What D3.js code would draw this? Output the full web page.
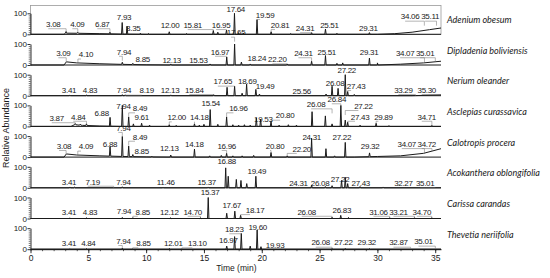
<!DOCTYPE html>
<html><head><meta charset="utf-8">
<script src="https://cdn.jsdelivr.net/npm/d3@7"></script>
<style>body{margin:0;background:#fff}svg{display:block}</style>
</head><body><svg id="c" width="550" height="278"></svg>
<script>
// ---------- DATA ----------
const species = ["Adenium obesum","Dipladenia boliviensis","Nerium oleander","Asclepias curassavica",
  "Calotropis procera","Acokanthera oblongifolia","Carissa carandas","Thevetia neriifolia"];
const timeTicks = [0,5,10,15,20,25,30,35];
const abundanceTicks = [0,100];

// peaks: [retention time (min), relative abundance %]
const peaksAdenium = [[3.08,8],[4.09,5],[6.87,8],[7.93,55],[8.35,38],[9.5,5],[10.2,4],[12.0,12],[13.5,4],[15.81,18],[16.2,10],[16.95,20],[17.64,100],[18.0,8],[18.4,6],[19.59,70],[20.81,12],[22.5,4],[24.31,8],[25.51,25],[26.5,5],[29.31,8]];
const peaksDipladenia = [[7.94,10],[8.85,6],[12.13,5],[15.53,5],[16.97,38],[17.65,100],[18.24,14],[19.0,5],[22.2,5],[24.31,18],[25.51,45],[26.5,8],[27.0,10],[29.31,33],[30.0,10]];
const peaksNerium = [[3.41,3],[4.83,3],[7.94,5],[8.19,4],[12.13,4],[15.84,5],[17.0,40],[17.65,45],[18.3,12],[18.69,55],[19.49,30],[19.8,8],[25.56,8],[26.08,45],[26.6,35],[27.22,100],[27.43,20],[28.0,6]];
const peaksAsclepias = [[3.87,6],[4.3,5],[4.84,8],[6.88,42],[7.94,100],[8.49,45],[8.9,12],[9.61,15],[10.3,6],[12.0,8],[12.6,5],[14.18,12],[14.6,6],[15.0,10],[15.54,80],[16.2,10],[16.96,45],[17.5,8],[18.0,6],[18.5,8],[19.0,6],[19.53,40],[19.9,35],[20.8,25],[21.5,6],[22.3,8],[23.0,6],[24.35,70],[25.5,50],[26.08,12],[26.84,100],[27.22,30],[27.43,20],[28.5,6],[29.89,15],[31.0,4],[34.71,5]];
const peaksCalotropis = [[6.88,45],[7.94,95],[8.49,50],[8.85,10],[10.5,4],[12.13,10],[14.18,38],[15.5,6],[16.5,8],[16.96,18],[17.5,6],[18.3,6],[19.3,8],[20.8,22],[22.2,6],[24.31,90],[25.55,40],[26.3,6],[27.22,70],[29.32,18]];
const peaksAcokanthera = [[3.41,4],[3.8,3],[7.94,5],[11.46,3],[15.37,4],[16.88,95],[17.1,55],[17.8,40],[18.2,35],[18.7,20],[19.49,55],[24.31,12],[25.5,6],[26.08,10],[26.9,35],[27.22,50],[27.43,20],[28.5,6],[30.5,4]];
const peaksCarissa = [[3.41,3],[4.83,3],[7.94,5],[8.85,4],[12.12,3],[14.7,3],[15.37,100],[16.97,25],[17.67,35],[18.17,15],[26.08,6],[26.83,15],[27.5,5],[31.06,4],[33.21,4],[34.7,4]];
const peaksThevetia = [[3.41,3],[4.84,3],[7.94,5],[8.85,3],[12.01,4],[13.1,3],[16.97,15],[17.65,60],[18.23,75],[19.0,15],[19.6,92],[19.93,12],[26.08,4],[27.22,4],[29.32,3]];

// baseline drift: [time, level %]
const baseAdenium = [[0,0],[2.9,0],[3.1,6],[4,5],[6,3],[8,1],[10,0],[30,0],[31.5,3],[33,10],[34.5,22],[35.5,30]];
const baseDipladenia = [[0,0],[2.9,0],[3.1,15],[4,10],[6,6],[8,3],[10,1],[12,0],[30,0],[32,4],[34,10],[35.5,18]];
const baseNerium = [[0,0],[33,0],[35.5,4]];
const baseAsclepias = [[0,0],[3.5,0],[3.8,8],[4.5,5],[6,2],[8,0],[35.5,0]];
const baseCalotropis = [[0,0],[2.9,0],[3.1,15],[4,10],[6,6],[8,3],[10,1],[12,0],[28,0],[30,3],[32,6],[34,18],[35.5,40]];
const baseAcokanthera = [[0,0],[35.5,0]];
const baseCarissa = [[0,0],[35.5,0]];
const baseThevetia = [[0,0],[35.5,0]];

// peak annotations: [text, label centre time, label level %]
const labelsAdenium = [["3.08",1.97,48],["4.09",4.05,48],["6.87",6.21,48],["7.93",8.09,81],["8.35",8.89,29],["12.00",12.07,44],["15.81",14.03,44],["16.95",16.48,44],["17.64",17.75,119],["19.59",20.29,92],["20.81",21.58,44],["24.31",23.75,29],["25.51",25.85,44],["29.31",29.22,29],["34.06",32.83,84],["35.11",34.56,84]];
const labelsDipladenia = [["3.09",2.84,56],["4.10",4.8,50],["7.94",8.09,63],["8.85",9.71,27],["12.13",12.21,24],["15.53",14.52,24],["16.97",16.39,63],["17.65",17.78,154],["18.24",19.57,32],["22.20",21.35,27],["24.31",23.6,56],["25.51",25.62,63],["29.31",29.28,63],["34.07",32.4,56],["35.01",34.13,56]];
const labelsNerium = [["3.41",3.33,27],["4.83",5.15,27],["7.94",8.09,27],["8.19",10.05,24],["12.13",12.07,27],["15.84",14.17,27],["17.65",16.63,67],["18.69",18.75,67],["19.49",20.29,43],["25.56",23.46,22],["26.08",26.34,59],["27.22",27.35,122],["27.43",28.16,46],["33.29",32.25,27],["35.30",34.27,27]];
const labelsAsclepias = [["3.87",2.27,39],["4.84",4.13,46],["6.88",6.16,62],["7.94",8.03,94],["8.49",9.47,86],["9.61",9.62,43],["12.00",12.65,43],["14.18",14.6,43],["15.54",15.59,110],["16.96",17.98,86],["19.53",20.14,35],["20.80",22.02,51],["26.08",24.7,105],["26.84",26.49,129],["27.22",28.79,97],["27.43",28.5,46],["29.89",30.52,46],["34.71",34.27,46]];
const labelsCalotropis = [["3.08",2.9,53],["4.09",4.8,50],["6.88",6.88,62],["7.94",8.03,139],["8.49",9.47,97],["8.85",9.62,26],["12.13",12.01,42],["14.18",14.17,62],["16.96",16.97,53],["20.80",21.15,53],["22.20",23.46,39],["24.31",24.32,97],["27.22",26.92,97],["29.32",29.37,53],["34.07",32.54,62],["34.72",34.27,62]];
const labelsAcokanthera = [["3.41",3.33,29],["7.19",5.38,29],["7.94",8.03,29],["11.46",11.7,29],["15.37",15.24,29],["16.88",16.97,128],["19.49",19.57,77],["24.31",23.17,21],["26.08",25.04,21],["27.22",26.77,40],["27.43",28.56,21],["32.27",32.25,21],["35.01",34.13,21]];
const labelsCarissa = [["3.41",3.33,32],["4.83",5.15,32],["7.94",8.08,37],["8.85",9.71,32],["12.12",12.01,32],["14.70",14.03,32],["15.37",15.53,126],["17.67",17.4,61],["18.17",19.42,40],["26.08",23.89,32],["26.83",26.92,40],["31.06",30.09,32],["33.21",31.82,32],["34.70",33.84,32]];
const labelsThevetia = [["3.41",3.33,28],["4.84",5.0,28],["7.94",8.03,39],["8.85",9.76,28],["12.01",12.35,28],["13.10",14.43,28],["16.97",17.11,44],["18.23",17.63,95],["19.60",19.65,107],["19.93",21.15,20],["26.08",25.1,31],["27.22",27.06,31],["29.32",29.08,31],["32.87",31.82,31],["35.01",33.98,36]];

const panels = [
  {name: species[0], peaks: peaksAdenium, base: baseAdenium, labels: labelsAdenium},
  {name: species[1], peaks: peaksDipladenia, base: baseDipladenia, labels: labelsDipladenia},
  {name: species[2], peaks: peaksNerium, base: baseNerium, labels: labelsNerium},
  {name: species[3], peaks: peaksAsclepias, base: baseAsclepias, labels: labelsAsclepias},
  {name: species[4], peaks: peaksCalotropis, base: baseCalotropis, labels: labelsCalotropis},
  {name: species[5], peaks: peaksAcokanthera, base: baseAcokanthera, labels: labelsAcokanthera},
  {name: species[6], peaks: peaksCarissa, base: baseCarissa, labels: labelsCarissa},
  {name: species[7], peaks: peaksThevetia, base: baseThevetia, labels: labelsThevetia}
];

// ---------- DRAW ----------
const svg = d3.select("#c");
const x = d3.scaleLinear().domain([0, 35.5]).range([30.5, 441]);
const firstBase = 34.3, step = 30.7, panelH = 21;
const numFont = "'Liberation Sans', Arial, sans-serif";
const ink = "#1a1a1a";

// frame around the top panel
svg.append("rect").attr("x", 30.5).attr("y", 5.5).attr("width", 410.5).attr("height", firstBase - 5.5)
  .attr("fill", "none").attr("stroke", "#9a9a9a").attr("stroke-width", 0.8);

panels.forEach((p, i) => {
  const b = firstBase + i * step;
  const y = d3.scaleLinear().domain([0, 100]).range([b, b - panelH]);
  const g = svg.append("g");
  const baseLevel = d3.scaleLinear().domain(p.base.map(d => d[0])).range(p.base.map(d => d[1])).clamp(true);

  // y axis
  const ya = g.append("g").attr("transform", `translate(${x(0)},0)`)
    .call(d3.axisLeft(y).tickValues(abundanceTicks).tickSize(3).tickSizeOuter(0).tickFormat(d3.format("d")));
  ya.select(".domain").attr("stroke", ink).attr("stroke-width", 0.9);
  ya.selectAll(".tick line").attr("stroke", ink).attr("stroke-width", 0.9);
  ya.selectAll("text").attr("font-family", numFont).attr("font-size", 8).attr("fill", ink).attr("x", -3.5);
  const ym = g.append("g").attr("transform", `translate(${x(0)},0)`)
    .call(d3.axisLeft(y).tickValues(d3.range(10, 100, 10)).tickSize(1.8).tickFormat(""));
  ym.select(".domain").remove();
  ym.selectAll(".tick line").attr("stroke", ink).attr("stroke-width", 0.6);

  // zero line
  g.append("line").attr("x1", x(0)).attr("x2", x(35.5)).attr("y1", y(0)).attr("y2", y(0))
    .attr("stroke", ink).attr("stroke-width", 1);

  // trace
  const pts = p.base.map(d => [d[0], d[1]]);
  p.peaks.forEach(([t, h]) => {
    const bl = baseLevel(t);
    pts.push([t - 0.06, bl], [t, bl + h], [t + 0.06, bl]);
  });
  pts.sort((a, c) => a[0] - c[0]);
  const line = d3.line().x(d => x(d[0])).y(d => y(d[1]));
  g.append("path").attr("d", line(pts)).attr("fill", "none").attr("stroke", ink)
    .attr("stroke-width", 1).attr("stroke-linejoin", "miter");

  // leaders + labels
  p.labels.forEach(([txt, lt, lv]) => {
    const pt = +txt;
    const pk = p.peaks.find(d => Math.abs(d[0] - pt) < 0.12);
    const top = baseLevel(pt) + (pk ? pk[1] : 0);
    const lx = x(lt), ly = y(lv);
    const px = x(pt), py = y(top);
    if ((Math.abs(lx - px) > 4 || ly + 4 < py - 3) && py > ly + 4) {
      g.append("polyline").attr("points", `${lx - 5},${ly + 4.5} ${px},${ly + 4.5} ${px},${Math.min(py, ly + 9)}`)
        .attr("fill", "none").attr("stroke", "#777").attr("stroke-width", 0.55);
    }
    g.append("text").attr("x", lx).attr("y", ly).attr("dy", "0.35em").attr("text-anchor", "middle")
      .attr("font-family", numFont).attr("font-size", 8).attr("letter-spacing", "-0.3px").attr("fill", ink).text(txt);
  });

  // species name
  svg.append("text").attr("x", 447).attr("y", b - 14.5).attr("dy", "0.35em")
    .attr("font-family", "Lato, 'Open Sans', sans-serif").attr("font-style", "italic").attr("font-size", 9)
    .attr("fill", ink).text(p.name);

  // bottom x axis
  if (i === panels.length - 1) {
    const xm = g.append("g").attr("transform", `translate(0,${b})`)
      .call(d3.axisBottom(x).tickValues(d3.range(0, 36, 1)).tickSize(2).tickSizeOuter(0).tickFormat(""));
    xm.select(".domain").remove();
    xm.selectAll(".tick line").attr("stroke", ink).attr("stroke-width", 0.7);
    const xa = g.append("g").attr("transform", `translate(0,${b})`)
      .call(d3.axisBottom(x).tickValues(timeTicks).tickSize(4).tickSizeOuter(0));
    xa.select(".domain").attr("stroke", ink).attr("stroke-width", 1);
    xa.selectAll(".tick line").attr("stroke", ink).attr("stroke-width", 0.9);
    xa.selectAll("text").attr("font-family", numFont).attr("font-size", 8.5).attr("fill", ink).attr("y", 6);
    svg.append("text").attr("x", x(17.8)).attr("y", b + 22).attr("text-anchor", "middle")
      .attr("font-family", numFont).attr("font-size", 8.5).attr("fill", ink).text("Time (min)");
  }
});

svg.append("text").attr("transform", "translate(9,128) rotate(-90)").attr("text-anchor", "middle")
  .attr("font-family", numFont).attr("font-size", 9).attr("fill", ink).text("Relative Abundance");
</script></body></html>
